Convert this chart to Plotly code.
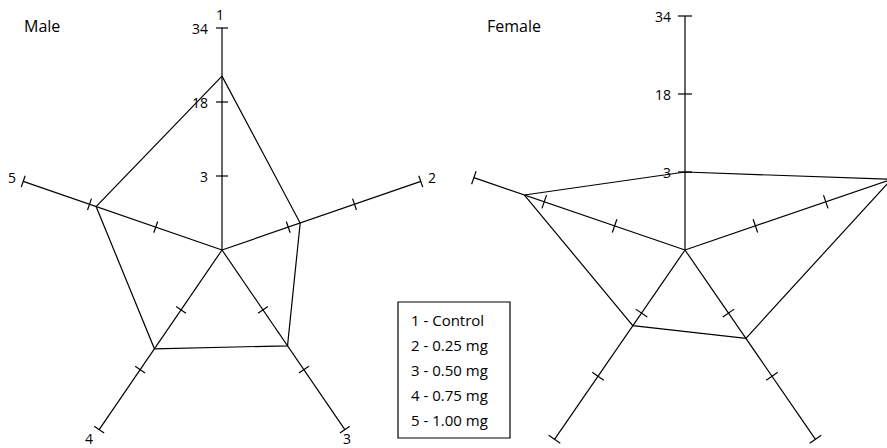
import numpy as np
import plotly.graph_objects as go

# ---- data -------------------------------------------------------------
axis_names = ["1", "2", "3", "4", "5"]
male_values = [23.6, 5.7, 12.0, 12.75, 16.5]
female_values = [3.0, 32.9, 9.0, 6.0, 22.5]

# radial scale: labelled ticks sit at equal spacing along each spoke
scale_ticks = [3, 18, 34]
scale_tick_labels = ["3", "18", "34"]

legend_lines = ["1 - Control", "2 - 0.25 mg", "3 - 0.50 mg", "4 - 0.75 mg", "5 - 1.00 mg"]

# ---- geometry ---------------------------------------------------------
W, H = 887, 448
FONT = "Open Sans, Noto Sans, sans-serif"
LINE = dict(color="black", width=1.2)

panels = {
    "male": dict(cx=222, cy=250, Lx=209, Ly=222, tick=6, xa="x", ya="y",
                 xdom=[0, 443.5 / W]),
    "female": dict(cx=685, cy=250, Lx=222, Ly=234, tick=7, xa="x2", ya="y2",
                   xdom=[443.5 / W, 1]),
}


def scale_pos(v):
    """Map a value onto the spoke (0 = centre, 1 = end of spoke)."""
    return np.interp(v, [0] + scale_ticks, [0, 1, 2, 3]) / 3.0


def to_xy(value, k, p):
    th = np.deg2rad(72 * k)
    t = scale_pos(value)
    return t * p["Lx"] * np.sin(th), t * p["Ly"] * np.cos(th)


fig = go.Figure()
annotations = []

for name, p in panels.items():
    # spokes
    sx, sy = [], []
    for k in range(5):
        ex, ey = to_xy(scale_ticks[-1], k, p)
        sx += [0, ex, None]
        sy += [0, ey, None]
    fig.add_trace(go.Scatter(x=sx, y=sy, mode="lines", line=LINE,
                             xaxis=p["xa"], yaxis=p["ya"], hoverinfo="skip",
                             showlegend=False))

    # tick marks perpendicular to each spoke
    tx, ty = [], []
    for k in range(5):
        th = np.deg2rad(72 * k)
        d = np.array([p["Lx"] * np.sin(th), p["Ly"] * np.cos(th)])
        d /= np.linalg.norm(d)
        n = np.array([-d[1], d[0]])
        for v in scale_ticks:
            px, py = to_xy(v, k, p)
            tx += [px - p["tick"] * n[0], px + p["tick"] * n[0], None]
            ty += [py - p["tick"] * n[1], py + p["tick"] * n[1], None]
    fig.add_trace(go.Scatter(x=tx, y=ty, mode="lines", line=LINE,
                             xaxis=p["xa"], yaxis=p["ya"], hoverinfo="skip",
                             showlegend=False))

    # profile polygon
    vals = male_values if name == "male" else female_values
    px, py = zip(*[to_xy(v, k, p) for k, v in enumerate(vals)])
    fig.add_trace(go.Scatter(x=list(px) + [px[0]], y=list(py) + [py[0]],
                             mode="lines", line=LINE,
                             xaxis=p["xa"], yaxis=p["ya"], hoverinfo="skip",
                             showlegend=False))

    # scale labels along spoke 1
    for v, lab in zip(scale_ticks, scale_tick_labels):
        x0, y0 = to_xy(v, 0, p)
        annotations.append(dict(x=x0, y=y0, xref=p["xa"], yref=p["ya"], text=lab,
                                showarrow=False, xanchor="right", yanchor="middle",
                                xshift=-12, font=dict(size=14, family=FONT, color="black")))

# spoke numbers on the male panel
pm = panels["male"]
label_shift = [(-2, 14), (11, 4), (2, -9), (-10, -9), (-11, 4)]
for k, lab in enumerate(axis_names):
    ex, ey = to_xy(scale_ticks[-1], k, pm)
    annotations.append(dict(x=ex, y=ey, xref="x", yref="y", text=lab, showarrow=False,
                            xanchor="center", yanchor="middle",
                            xshift=label_shift[k][0], yshift=label_shift[k][1],
                            font=dict(size=14, family=FONT, color="black")))

# panel titles
for txt, xp in [("Male", 22), ("Female", 485)]:
    annotations.append(dict(x=xp / W, y=1 - 26 / H, xref="paper", yref="paper", text=txt,
                            showarrow=False, xanchor="left", yanchor="middle",
                            font=dict(size=16, family=FONT, color="black")))

# key box
for i, txt in enumerate(legend_lines):
    annotations.append(dict(x=409 / W, y=1 - (320 + 25 * i) / H, xref="paper", yref="paper",
                            text=txt, showarrow=False, xanchor="left", yanchor="middle",
                            font=dict(size=15, family=FONT, color="black")))

shapes = [dict(type="rect", xref="paper", yref="paper",
               x0=398 / W, x1=510 / W, y0=1 - 438 / H, y1=1 - 302 / H,
               line=dict(color="black", width=1.2), fillcolor="rgba(0,0,0,0)")]

hidden = dict(visible=False, showgrid=False, zeroline=False, fixedrange=True)
fig.update_layout(
    width=W, height=H, margin=dict(l=0, r=0, t=0, b=0),
    paper_bgcolor="white", plot_bgcolor="white",
    xaxis=dict(domain=panels["male"]["xdom"], range=[-222, 221.5], **hidden),
    yaxis=dict(domain=[0, 1], range=[-198, 250], **hidden),
    xaxis2=dict(domain=panels["female"]["xdom"], range=[443.5 - 685, 887 - 685],
                anchor="y2", **hidden),
    yaxis2=dict(domain=[0, 1], range=[-198, 250], anchor="x2", **hidden),
    annotations=annotations, shapes=shapes, showlegend=False,
)

fig.write_html("out.html")
